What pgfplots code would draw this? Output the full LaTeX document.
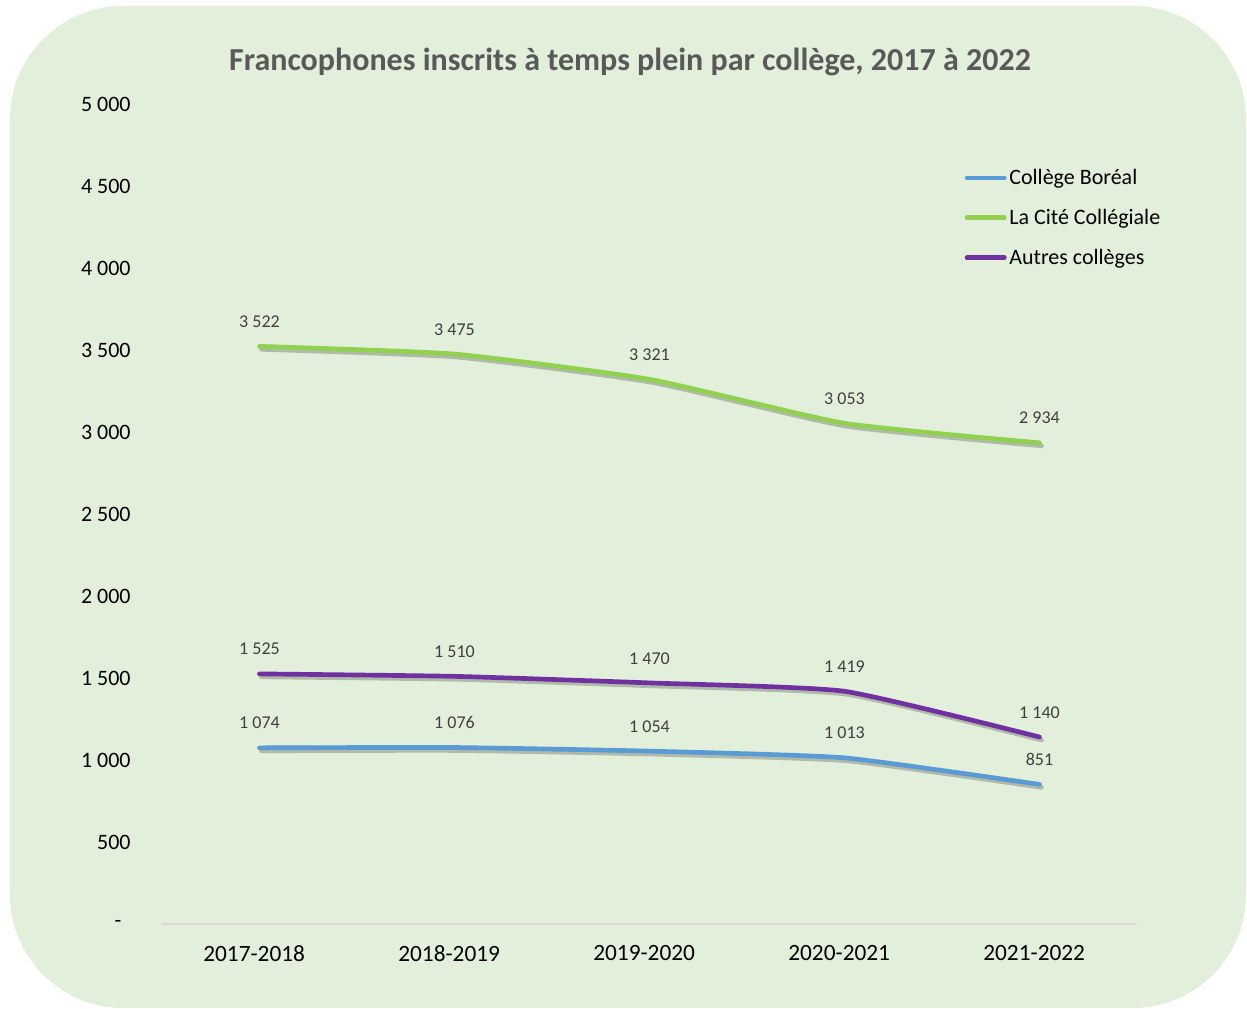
\documentclass[border=0pt]{standalone}
\usepackage{pgfplots}
\pgfplotsset{compat=1.18}
\usepackage{fontspec}
\setmainfont{Carlito}

\definecolor{bgcol}{HTML}{E2EFDA}
\definecolor{boreal}{HTML}{5B9BD5}
\definecolor{cite}{HTML}{92D050}
\definecolor{autres}{HTML}{7030A0}
\definecolor{titlecol}{HTML}{595959}
\definecolor{labcol}{HTML}{404040}
\definecolor{axcol}{HTML}{D9D9D9}

\begin{document}
\begin{tikzpicture}
% pixel frame of the reference: origin of the axis at pixel (162,924)
\begin{scope}[x=0.75pt,y=-0.75pt,shift={(-121.5pt,693pt)}]
  \useasboundingbox (0,0) rectangle (1247,1009);
  \fill[bgcol, rounded corners=85pt] (10,6) rectangle (1246,1008);
  \node[font=\bfseries\fontsize{24}{27}\selectfont, text=titlecol] at (630,62) {Francophones inscrits à temps plein par collège, 2017 à 2022};
\end{scope}

\begin{axis}[
  at={(0,0)}, anchor=south west,
  scale only axis,
  width=731.25pt, height=615pt,
  xmin=-0.5, xmax=4.5,
  ymin=0, ymax=5000,
  axis x line*=bottom,
  axis y line=none,
  x axis line style={axcol, line width=1.5pt, -},
  xtick={0,1,2,3,4},
  xticklabels={2017-2018,2018-2019,2019-2020,2020-2021,2021-2022},
  major tick length=0pt,
  xticklabel style={font=\fontsize{17.5}{20}\selectfont, text=black, yshift=-12.5pt, xshift=-4pt},
  clip=false,
  legend style={at={(0.823,0.924)}, anchor=north west, draw=none, fill=none,
    font=\fontsize{16.5}{19}\selectfont, row sep=13pt, inner sep=0pt},
  legend cell align=left,
  legend image code/.code={\draw[line width=3.5pt, line cap=round] (0pt,0pt) -- (28pt,0pt);},
  nodes near coords,
  every node near coord/.append style={font=\fontsize{13.5}{16}\selectfont, text=labcol, anchor=south, yshift=9pt},
  /pgf/number format/.cd, 1000 sep={\ }, assume math mode=true,
]
% y tick labels
\pgfplotsinvokeforeach{500,1000,1500,2000,2500,3000,3500,4000,4500,5000}{
  \node[anchor=east, font=\fontsize{16.5}{19}\selectfont] at (axis cs:-0.5,#1) [xshift=-20pt] {\pgfmathprintnumber[1000 sep={\ }]{#1}};
}
\node[anchor=east, font=\fontsize{16.5}{19}\selectfont] at (axis cs:-0.5,0) [xshift=-27pt] {-};

% shadows
\addplot[forget plot, no markers, smooth, tension=0.3, line width=3.5pt, black, opacity=0.22, line cap=round, xshift=1.5pt, yshift=-2.2pt, nodes near coords={}] coordinates {(0,1074) (1,1076) (2,1054) (3,1013) (4,851)};
\addplot[forget plot, no markers, smooth, tension=0.3, line width=3.5pt, black, opacity=0.22, line cap=round, xshift=1.5pt, yshift=-2.2pt, nodes near coords={}] coordinates {(0,3522) (1,3475) (2,3321) (3,3053) (4,2934)};
\addplot[forget plot, no markers, smooth, tension=0.3, line width=3.5pt, black, opacity=0.22, line cap=round, xshift=1.5pt, yshift=-2.2pt, nodes near coords={}] coordinates {(0,1525) (1,1510) (2,1470) (3,1419) (4,1140)};

\addplot[boreal, no markers, smooth, tension=0.3, line width=3.5pt, line cap=round] coordinates {(0,1074) (1,1076) (2,1054) (3,1013) (4,851)};
\addlegendentry{Collège Boréal}
\addplot[cite, no markers, smooth, tension=0.3, line width=3.5pt, line cap=round] coordinates {(0,3522) (1,3475) (2,3321) (3,3053) (4,2934)};
\addlegendentry{La Cité Collégiale}
\addplot[autres, no markers, smooth, tension=0.3, line width=3.5pt, line cap=round] coordinates {(0,1525) (1,1510) (2,1470) (3,1419) (4,1140)};
\addlegendentry{Autres collèges}
\end{axis}
\end{tikzpicture}
\end{document}
